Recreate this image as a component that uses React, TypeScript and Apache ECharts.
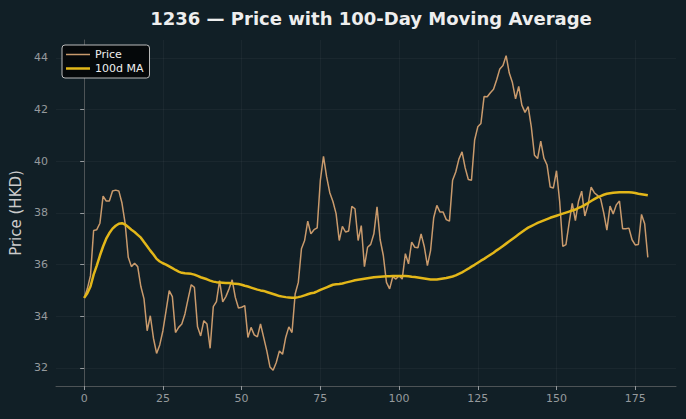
import React, { useEffect, useRef } from "react";
import * as echarts from "echarts";

const TITLE = "1236 — Price with 100-Day Moving Average";
const Y_NAME = "Price (HKD)";
const SERIES_NAMES = ["Price", "100d MA"];
const X_TICKS = [0, 25, 50, 75, 100, 125, 150, 175];
const Y_TICKS = [32, 34, 36, 38, 40, 42, 44];

const price = [
  34.71, 35.06, 35.57, 37.32, 37.35, 37.6, 38.65, 38.46, 38.46, 38.85,
  38.88, 38.85, 38.38, 37.6, 36.28, 35.92, 36.05, 35.92, 35.15, 34.67,
  33.44, 34.02, 33.15, 32.56, 32.89, 33.44, 34.21, 34.99, 34.76, 33.37,
  33.57, 33.7, 34.09, 34.67, 35.22, 35.12, 33.59, 33.24, 33.83, 33.7,
  32.76, 34.37, 34.57, 35.38, 34.56, 34.76, 35.06, 35.41, 34.73, 34.32,
  34.35, 34.41, 33.18, 33.57, 33.28, 33.2, 33.7, 33.18, 32.66, 32.04,
  31.91, 32.21, 32.66, 32.53, 33.18, 33.59, 33.37, 34.86, 35.31, 36.61,
  36.93, 37.68, 37.19, 37.35, 37.42, 39.26, 40.19, 39.39, 38.78, 38.44,
  37.97, 36.93, 37.48, 37.26, 37.3, 38.25, 38.16, 36.93, 37.51, 35.92,
  36.67, 36.78, 37.19, 38.23, 36.96, 36.35, 35.31, 35.06, 35.53, 35.44,
  35.57, 35.44, 36.42, 36.03, 36.87, 36.67, 36.65, 37.19, 36.7, 35.96,
  36.54, 37.81, 38.29, 38.03, 38.03, 37.74, 37.68, 39.26, 39.58, 40.08,
  40.36, 39.74, 39.29, 39.26, 40.82, 41.33, 41.46, 42.5, 42.49, 42.65,
  42.78, 43.15, 43.57, 43.7, 44.08, 43.41, 43.04, 42.41, 42.89, 42.17,
  41.89, 42.11, 41.33, 40.23, 40.1, 40.78, 40.12, 39.85, 39.0, 38.96,
  39.63, 38.45, 36.7, 36.77, 37.6, 38.37, 37.7, 38.45, 38.84, 37.88,
  38.3, 39.0, 38.78, 38.68, 38.55, 38.0, 37.33, 38.26, 37.96, 38.31,
  38.46, 37.39, 37.39, 37.41, 36.96, 36.76, 36.78, 37.94, 37.58, 36.28,
];

const ma100 = [
  34.71, 34.89, 35.15, 35.61, 35.96, 36.35, 36.7, 37.0, 37.22, 37.39,
  37.5, 37.58, 37.6, 37.55, 37.45, 37.35, 37.26, 37.15, 37.04, 36.87,
  36.71, 36.54, 36.39, 36.22, 36.12, 36.05, 36.0, 35.93, 35.86, 35.79,
  35.73, 35.68, 35.66, 35.65, 35.64, 35.61, 35.56, 35.51, 35.47, 35.43,
  35.38, 35.34, 35.32, 35.31, 35.3, 35.29, 35.29, 35.27, 35.26, 35.25,
  35.22, 35.18, 35.15, 35.11, 35.07, 35.03, 35.0, 34.98, 34.94, 34.9,
  34.86, 34.82, 34.78, 34.76, 34.74, 34.73, 34.72, 34.72, 34.74, 34.77,
  34.81, 34.85, 34.89, 34.91, 34.96, 35.02, 35.07, 35.12, 35.17, 35.22,
  35.24, 35.25, 35.27, 35.3, 35.33, 35.36, 35.39, 35.41, 35.43, 35.45,
  35.47, 35.49, 35.51, 35.52, 35.53, 35.54, 35.55, 35.55, 35.56, 35.56,
  35.56, 35.56, 35.56, 35.55, 35.53, 35.52, 35.5, 35.48, 35.46, 35.44,
  35.42, 35.42, 35.42, 35.44, 35.46, 35.48, 35.51, 35.54, 35.58, 35.64,
  35.7, 35.77, 35.84, 35.92, 35.99, 36.07, 36.15, 36.22, 36.3, 36.38,
  36.46, 36.55, 36.63, 36.72, 36.81, 36.9, 36.99, 37.08, 37.17, 37.26,
  37.35, 37.43, 37.49, 37.55, 37.61, 37.66, 37.71, 37.76, 37.81, 37.85,
  37.89, 37.93, 37.97, 38.01, 38.05, 38.09, 38.13, 38.19, 38.24, 38.31,
  38.38, 38.46, 38.53, 38.6, 38.65, 38.7, 38.74, 38.76, 38.78, 38.79,
  38.8, 38.8, 38.8, 38.8, 38.79, 38.77, 38.74, 38.72, 38.7, 38.68,
];

const BG = "#111f26";
const PRICE_COLOR = "#c99a6c";
const MA_COLOR = "#e3b719";
const GRID_COLOR = "rgba(255,255,255,0.04)";
const AXIS_COLOR = "#4d5356";
const TICK_LABEL_COLOR = "#959a9d";
const FONT = "DejaVu Sans";

// legend swatches: a horizontal bar inside a 24x11 box (the extra move-to points keep the box size)
const ICON_PRICE = "path://M0,0 L0,0 M0,4.75 L24,4.75 L24,6.25 L0,6.25 Z M24,11 L24,11";
const ICON_MA = "path://M0,0 L0,0 M0,4.25 L24,4.25 L24,6.75 L0,6.75 Z M24,11 L24,11";

export default function App() {
  const ref = useRef<HTMLDivElement>(null);

  useEffect(() => {
    if (!ref.current) return;
    const chart = echarts.init(ref.current, null, { renderer: "svg" });
    const n = price.length;
    const xMin = -(n - 1) * 0.05;
    const xMax = (n - 1) * 1.05;
    const lo = Math.min(...price);
    const hi = Math.max(...price);
    const yMin = lo - (hi - lo) * 0.05;
    const yMax = hi + (hi - lo) * 0.05;

    const option: any = {
      animation: false,
      backgroundColor: BG,
      textStyle: { fontFamily: FONT },
      title: {
        text: TITLE,
        left: 366,
        textAlign: "center",
        top: 4,
        textStyle: { color: "#eeeeee", fontSize: 18, fontWeight: "bold", fontFamily: FONT },
      },
      legend: {
        orient: "vertical",
        left: 62,
        top: 45,
        backgroundColor: "#05080a",
        borderColor: "#bbbbbb",
        borderWidth: 1,
        borderRadius: 3,
        padding: [4, 6, 4, 4],
        itemGap: 3,
        itemWidth: 24,
        itemHeight: 11,
        textStyle: { color: "#eeeeee", fontSize: 11, fontFamily: FONT },
        data: [
          { name: SERIES_NAMES[0], icon: ICON_PRICE, itemStyle: { color: PRICE_COLOR } },
          { name: SERIES_NAMES[1], icon: ICON_MA, itemStyle: { color: MA_COLOR } },
        ],
      },
      grid: { left: 56, right: 10, top: 40, bottom: 33, containLabel: false },
      xAxis: {
        type: "value",
        min: xMin,
        max: xMax,
        axisLine: { show: true, lineStyle: { color: AXIS_COLOR, width: 1 } },
        axisTick: { show: true, length: 4, lineStyle: { color: TICK_LABEL_COLOR }, customValues: X_TICKS },
        axisLabel: { color: TICK_LABEL_COLOR, fontSize: 11, margin: 7, fontFamily: FONT, customValues: X_TICKS },
        splitLine: { show: true, lineStyle: { color: GRID_COLOR, width: 1 } },
      },
      yAxis: {
        type: "value",
        min: yMin,
        max: yMax,
        name: Y_NAME,
        nameLocation: "middle",
        nameRotate: 90,
        nameGap: 29,
        nameTextStyle: { color: "#cccccc", fontSize: 15, fontFamily: FONT },
        axisLine: { show: true, lineStyle: { color: AXIS_COLOR, width: 1 } },
        axisTick: { show: true, length: 4, lineStyle: { color: TICK_LABEL_COLOR }, customValues: Y_TICKS },
        axisLabel: { color: TICK_LABEL_COLOR, fontSize: 11, margin: 8, fontFamily: FONT, customValues: Y_TICKS },
        splitLine: { show: true, lineStyle: { color: GRID_COLOR, width: 1 } },
      },
      series: [
        {
          name: SERIES_NAMES[0],
          type: "line",
          data: price.map((v, i) => [i, v]),
          showSymbol: false,
          symbol: "none",
          lineStyle: { color: PRICE_COLOR, width: 1.5 },
          itemStyle: { color: PRICE_COLOR },
          z: 2,
        },
        {
          name: SERIES_NAMES[1],
          type: "line",
          data: ma100.map((v, i) => [i, v]),
          showSymbol: false,
          symbol: "none",
          lineStyle: { color: MA_COLOR, width: 2.5 },
          itemStyle: { color: MA_COLOR },
          z: 3,
        },
      ],
    };
    chart.setOption(option);
    return () => chart.dispose();
  }, []);

  return (
    <div
      ref={ref}
      style={{ position: "absolute", left: 0, top: 0, width: 686, height: 419, background: BG }}
    />
  );
}
